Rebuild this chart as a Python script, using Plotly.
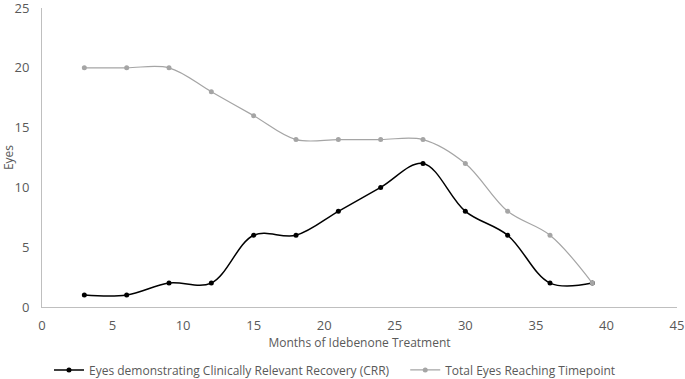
import plotly.graph_objects as go

months = [3, 6, 9, 12, 15, 18, 21, 24, 27, 30, 33, 36, 39]
crr_eyes = [1, 1, 2, 2, 6, 6, 8, 10, 12, 8, 6, 2, 2]
total_eyes = [20, 20, 20, 18, 16, 14, 14, 14, 14, 12, 8, 6, 2]
x_ticks = [0, 5, 10, 15, 20, 25, 30, 35, 40, 45]
y_ticks = [0, 5, 10, 15, 20, 25]

FONT = "Open Sans"
TICK_COLOR = "#595959"

fig = go.Figure()
fig.add_trace(go.Scatter(
    x=months, y=crr_eyes, mode="lines+markers",
    name="Eyes demonstrating Clinically Relevant Recovery (CRR)",
    line=dict(color="#000000", width=1.5, shape="spline", smoothing=1),
    marker=dict(color="#000000", size=5),
    legend="legend",
))
fig.add_trace(go.Scatter(
    x=months, y=total_eyes, mode="lines+markers",
    name="Total Eyes Reaching Timepoint",
    line=dict(color="#A5A5A5", width=1.2, shape="spline", smoothing=1),
    marker=dict(color="#A5A5A5", size=5),
    legend="legend2",
))

legend_common = dict(orientation="h", yref="container", y=0.024, yanchor="middle",
                     xanchor="left", font=dict(size=12, color=TICK_COLOR),
                     bgcolor="rgba(0,0,0,0)")

fig.update_layout(
    width=685, height=379,
    margin=dict(l=42, r=8, t=8, b=72, autoexpand=False),
    paper_bgcolor="white", plot_bgcolor="white",
    font=dict(family=FONT, size=12, color=TICK_COLOR),
    showlegend=True,
    legend=dict(x=0.011, **legend_common),
    legend2=dict(x=0.572, **legend_common),
    xaxis=dict(range=[0, 45], tickvals=x_ticks, showgrid=False, zeroline=False,
               showline=True, linecolor="#BFBFBF", linewidth=1, ticks="",
               tickfont=dict(size=13), ticklabelstandoff=6, automargin=False,
               ticklabeloverflow="allow",
               title=dict(text="Months of Idebenone Treatment", font=dict(size=12, color=TICK_COLOR), standoff=4)),
    yaxis=dict(range=[0, 25], tickvals=y_ticks, showgrid=False, zeroline=False,
               showline=True, linecolor="#BFBFBF", linewidth=1, ticks="",
               tickfont=dict(size=13), ticklabelstandoff=9, automargin=False,
               ticklabeloverflow="allow",
               title=dict(text="Eyes", font=dict(size=12, color=TICK_COLOR), standoff=14)),
)

fig.write_html("out.html", config={"displayModeBar": False},
               post_script="document.body.style.margin='0';")
